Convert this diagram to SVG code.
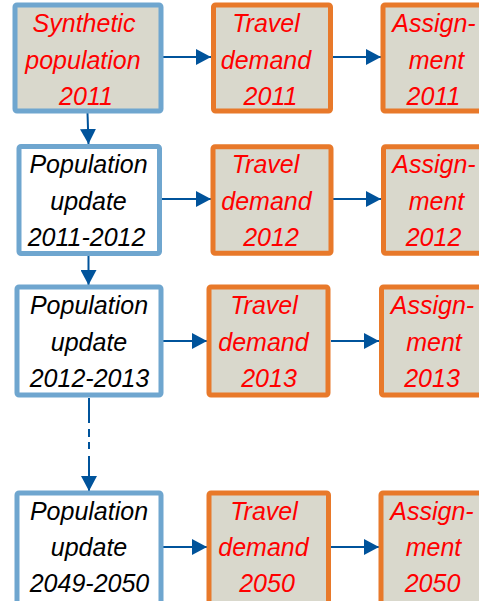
<svg xmlns="http://www.w3.org/2000/svg" width="479" height="601" viewBox="0 0 479 601">
<defs>
<style>
.bb{fill:#ffffff;stroke:#6fa6cf;stroke-width:5}
.bg{fill:#d9d8cc;stroke:#6fa6cf;stroke-width:5}
.ob{fill:#d9d8cc;stroke:#e8792a;stroke-width:5}
text{font-family:"Liberation Sans",Arial,sans-serif;font-style:italic;font-size:25px;text-anchor:middle}
.r{fill:#ff0000}
.k{fill:#000000}
.c{stroke:#00539b;stroke-width:2;fill:none;marker-end:url(#ah)}
</style>
<marker id="ah" markerUnits="userSpaceOnUse" markerWidth="15" markerHeight="16" refX="15" refY="8" orient="auto">
<path d="M0,0 L15,8 L0,16 z" fill="#00539b"/>
</marker>
</defs>
<rect width="479" height="601" fill="#ffffff"/>
<g id="connectors">
<line class="c" x1="163" y1="57" x2="211" y2="57"/>
<line class="c" x1="333" y1="57" x2="381" y2="57"/>
<line class="c" x1="87.5" y1="113" x2="88.5" y2="144"/>
<line class="c" x1="162" y1="199" x2="211" y2="199"/>
<line class="c" x1="333" y1="199" x2="381" y2="199"/>
<line class="c" x1="88.5" y1="256" x2="88.5" y2="285"/>
<line class="c" x1="163" y1="341" x2="207" y2="341"/>
<line class="c" x1="331" y1="341" x2="379" y2="341"/>
<line class="c" x1="89" y1="398" x2="89" y2="491" stroke-dasharray="25 6 8 5 7 7 100"/>
<line class="c" x1="163" y1="547" x2="207" y2="547"/>
<line class="c" x1="331" y1="547" x2="379" y2="547"/>
</g>
<g id="synth2011">
<rect class="bg" x="15" y="5" width="146" height="106" rx="2"/>
<text class="r" x="84" y="32">Synthetic</text>
<text class="r" x="83" y="68.5">population</text>
<text class="r" x="86" y="105">2011</text>
</g>
<g id="travel2011">
<rect class="ob" x="213.5" y="5" width="117" height="106" rx="2"/>
<text class="r" x="266" y="32">Travel</text>
<text class="r" x="266" y="68.5">demand</text>
<text class="r" x="270.5" y="105">2011</text>
</g>
<g id="assign2011">
<rect class="ob" x="383" y="5" width="120" height="106" rx="2"/>
<text class="r" x="434" y="32">Assign-</text>
<text class="r" x="436.5" y="68.5">ment</text>
<text class="r" x="433.5" y="105">2011</text>
</g>
<g id="pop2012">
<rect class="bb" x="19" y="146.5" width="140.5" height="107" rx="2"/>
<text class="k" x="88.5" y="173">Population</text>
<text class="k" x="88.5" y="209.5">update</text>
<text class="k" x="86.5" y="246">2011-2012</text>
</g>
<g id="travel2012">
<rect class="ob" x="213" y="146.8" width="118" height="106.5" rx="2"/>
<text class="r" x="265.5" y="173">Travel</text>
<text class="r" x="266.5" y="209.5">demand</text>
<text class="r" x="271" y="246">2012</text>
</g>
<g id="assign2012">
<rect class="ob" x="383.5" y="146.8" width="120" height="106.5" rx="2"/>
<text class="r" x="434" y="173">Assign-</text>
<text class="r" x="436.5" y="209.5">ment</text>
<text class="r" x="433.5" y="246">2012</text>
</g>
<g id="pop2013">
<rect class="bb" x="17" y="287" width="144" height="108" rx="2"/>
<text class="k" x="89" y="314">Population</text>
<text class="k" x="89" y="350.5">update</text>
<text class="k" x="89.5" y="387">2012-2013</text>
</g>
<g id="travel2013">
<rect class="ob" x="209" y="287" width="119" height="108" rx="2"/>
<text class="r" x="264" y="314">Travel</text>
<text class="r" x="263.5" y="350.5">demand</text>
<text class="r" x="269" y="387">2013</text>
</g>
<g id="assign2013">
<rect class="ob" x="381.5" y="287" width="120" height="108" rx="2"/>
<text class="r" x="432.5" y="314">Assign-</text>
<text class="r" x="434" y="350.5">ment</text>
<text class="r" x="432" y="387">2013</text>
</g>
<g id="pop2050">
<rect class="bb" x="17" y="493" width="144" height="120" rx="2"/>
<text class="k" x="89" y="520">Population</text>
<text class="k" x="89" y="556">update</text>
<text class="k" x="89.5" y="592">2049-2050</text>
</g>
<g id="travel2050">
<rect class="ob" x="209" y="493" width="119.5" height="120" rx="2"/>
<text class="r" x="264" y="520">Travel</text>
<text class="r" x="263.5" y="556">demand</text>
<text class="r" x="267" y="592">2050</text>
</g>
<g id="assign2050">
<rect class="ob" x="381" y="493" width="120" height="120" rx="2"/>
<text class="r" x="432" y="520">Assign-</text>
<text class="r" x="433.5" y="556">ment</text>
<text class="r" x="432.5" y="592">2050</text>
</g>
</svg>
